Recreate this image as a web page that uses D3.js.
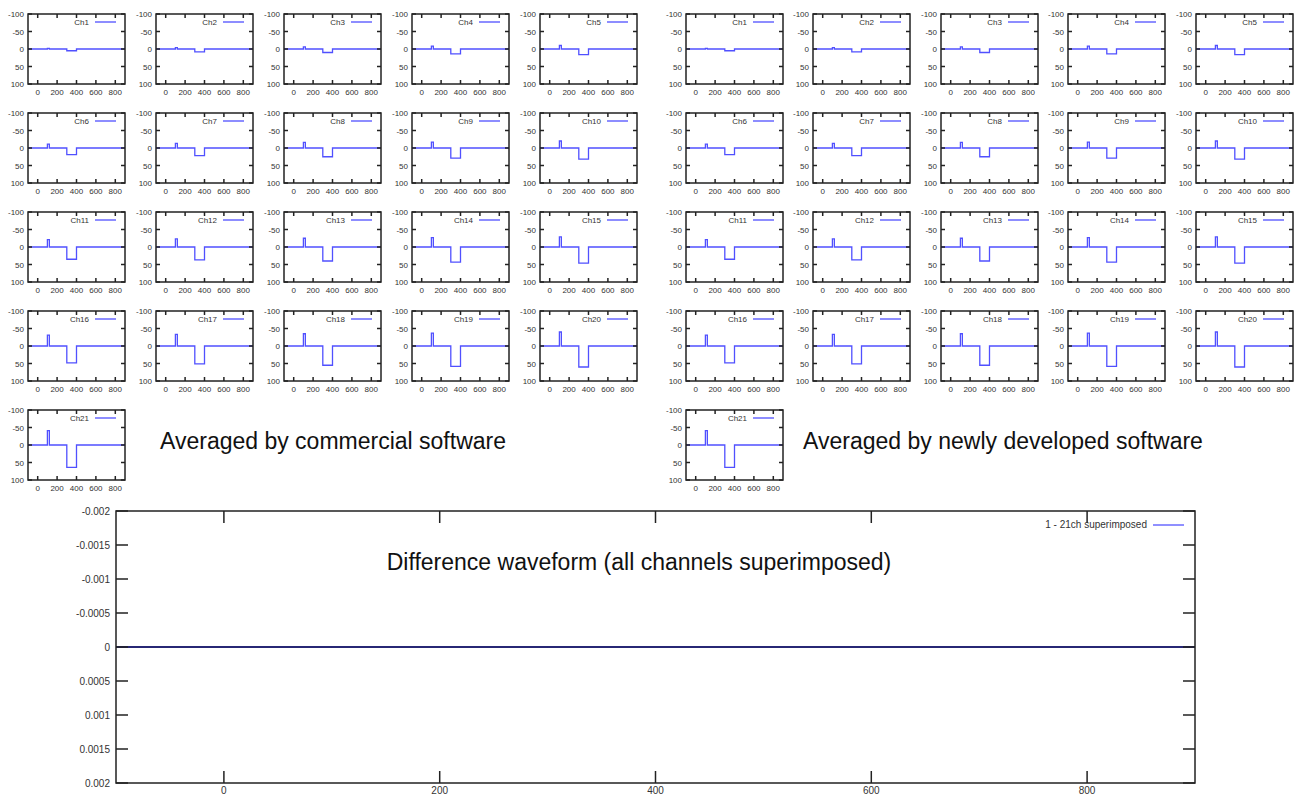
<!DOCTYPE html>
<html>
<head>
<meta charset="utf-8">
<script src="https://cdn.jsdelivr.net/npm/d3@7"></script>
<style>
    body { margin: 0; background: #fff; }
    svg { display: block; font-family: "Liberation Sans", Arial, sans-serif; }
    .frame { fill: none; stroke: #222; stroke-width: 1.5; }
    .tick-mark { stroke: #222; stroke-width: 1.5; }
    .lbl { fill: #333; }
</style>
</head>
<body>
<svg id="chart"></svg>
<script>
const W = 1296, H = 797;

// channel names
const channels = d3.range(1, 22).map(i => "Ch" + i);

// sample points where the waveform changes level (step after)
const sampleTimes = [-100, 100, 120, 300, 400, 900];

// amplitude (negative = upward spike, positive = dip)
const commercialSpike = [-2, -4, -6, -8, -10, -11, -13, -16, -17, -20, -21, -23, -25, -27, -29, -31, -33, -35, -37, -40, -41];
const commercialDip = [5, 8, 10, 14, 16, 19, 22, 25, 29, 32, 35, 37, 40, 43, 46, 48, 51, 55, 58, 60, 64];
const newSpike = [-2, -4, -6, -8, -10, -11, -13, -16, -17, -20, -21, -23, -25, -27, -29, -31, -33, -35, -37, -40, -41];
const newDip = [5, 8, 10, 14, 16, 19, 22, 25, 29, 32, 35, 37, 40, 43, 46, 48, 51, 55, 58, 60, 64];

const smallXTicks = [0, 200, 400, 600, 800];
const smallYTicks = [-100, -50, 0, 50, 100];
const bigXTicks = [0, 200, 400, 600, 800];
const bigYTicks = [-0.002, -0.0015, -0.001, -0.0005, 0, 0.0005, 0.001, 0.0015, 0.002];

function waveform(spike, dip) {
    return sampleTimes.map((t, i) => ({
        t: t,
        v: [0, spike, 0, dip, 0, 0][i]
    }));
}

const svg = d3.select("#chart").attr("width", W).attr("height", H);

// small panel geometry
const pw = 97, ph = 70;
const rowTops = [14, 113, 212, 311, 410];
const leftCols = [28, 156, 284, 412, 540];
const rightCols = [686, 813, 941, 1068, 1196];

function drawPanel(x0, y0, name, data) {
    const g = svg.append("g").attr("transform", `translate(${x0},${y0})`);
    const x = d3.scaleLinear().domain([-100, 900]).range([0, pw]);
    const y = d3.scaleLinear().domain([-100, 100]).range([0, ph]);

    const line = d3.line().x(d => x(d.t)).y(d => y(d.v)).curve(d3.curveStepAfter);
    g.append("path")
        .datum(data)
        .attr("d", line)
        .attr("fill", "none")
        .attr("stroke", "#5050ff")
        .attr("stroke-width", 1.3);

    // ticks on all four sides, pointing in
    smallXTicks.forEach(t => {
        g.append("line").attr("class", "tick-mark")
            .attr("x1", x(t)).attr("x2", x(t)).attr("y1", ph).attr("y2", ph - 4);
        g.append("line").attr("class", "tick-mark")
            .attr("x1", x(t)).attr("x2", x(t)).attr("y1", 0).attr("y2", 4);
        g.append("text").attr("class", "lbl")
            .attr("x", x(t)).attr("y", ph + 11)
            .attr("text-anchor", "middle").attr("font-size", 8)
            .text(t);
    });
    smallYTicks.forEach(t => {
        g.append("line").attr("class", "tick-mark")
            .attr("x1", 0).attr("x2", 4).attr("y1", y(t)).attr("y2", y(t));
        g.append("line").attr("class", "tick-mark")
            .attr("x1", pw).attr("x2", pw - 4).attr("y1", y(t)).attr("y2", y(t));
        g.append("text").attr("class", "lbl")
            .attr("x", -4).attr("y", y(t) + 3)
            .attr("text-anchor", "end").attr("font-size", 8)
            .text(t);
    });

    g.append("rect").attr("class", "frame").attr("width", pw).attr("height", ph);

    // legend
    g.append("text").attr("class", "lbl")
        .attr("x", 61).attr("y", 11)
        .attr("text-anchor", "end").attr("font-size", 8)
        .text(name);
    g.append("line")
        .attr("x1", 67).attr("x2", 88).attr("y1", 8).attr("y2", 8)
        .attr("stroke", "#5050ff").attr("stroke-width", 1.3);
}

channels.forEach((name, i) => {
    const r = Math.floor(i / 5), c = i % 5;
    drawPanel(leftCols[c], rowTops[r], name, waveform(commercialSpike[i], commercialDip[i]));
    drawPanel(rightCols[c], rowTops[r], name, waveform(newSpike[i], newDip[i]));
});

svg.append("text").attr("x", 333).attr("y", 449)
    .attr("text-anchor", "middle").attr("font-size", 23).attr("fill", "#111")
    .text("Averaged by commercial software");
svg.append("text").attr("x", 1003).attr("y", 449)
    .attr("text-anchor", "middle").attr("font-size", 23).attr("fill", "#111")
    .text("Averaged by newly developed software");

// difference plot
const bx0 = 116, by0 = 511, bw = 1079, bh = 272;
const bg = svg.append("g").attr("transform", `translate(${bx0},${by0})`);
const bx = d3.scaleLinear().domain([-100, 900]).range([0, bw]);
const by = d3.scaleLinear().domain([-0.002, 0.002]).range([0, bh]);

const diffLine = d3.line().x(d => bx(d.t)).y(d => by(d.v));
channels.forEach((name, i) => {
    const a = waveform(commercialSpike[i], commercialDip[i]);
    const b = waveform(newSpike[i], newDip[i]);
    const diff = a.map((d, k) => ({ t: d.t, v: b[k].v - d.v }));
    bg.append("path")
        .datum(diff)
        .attr("d", diffLine)
        .attr("fill", "none")
        .attr("stroke", "#2020a0")
        .attr("stroke-width", 1);
});
// zero axis
bg.append("line")
    .attr("x1", 0).attr("x2", bw).attr("y1", by(0)).attr("y2", by(0))
    .attr("stroke", "#333").attr("stroke-width", 0.8);

bigXTicks.forEach(t => {
    bg.append("line").attr("class", "tick-mark")
        .attr("x1", bx(t)).attr("x2", bx(t)).attr("y1", bh).attr("y2", bh - 12);
    bg.append("line").attr("class", "tick-mark")
        .attr("x1", bx(t)).attr("x2", bx(t)).attr("y1", 0).attr("y2", 12);
    bg.append("text").attr("class", "lbl")
        .attr("x", bx(t)).attr("y", bh + 11)
        .attr("text-anchor", "middle").attr("font-size", 10)
        .text(t);
});
bigYTicks.forEach(t => {
    bg.append("line").attr("class", "tick-mark")
        .attr("x1", 0).attr("x2", 12).attr("y1", by(t)).attr("y2", by(t));
    bg.append("line").attr("class", "tick-mark")
        .attr("x1", bw).attr("x2", bw - 12).attr("y1", by(t)).attr("y2", by(t));
    bg.append("text").attr("class", "lbl")
        .attr("x", -6).attr("y", by(t) + 4)
        .attr("text-anchor", "end").attr("font-size", 10)
        .text(t);
});
bg.append("rect").attr("class", "frame").attr("width", bw).attr("height", bh)
    .attr("stroke-width", 2);

bg.append("text").attr("class", "lbl")
    .attr("x", 1031).attr("y", 17)
    .attr("text-anchor", "end").attr("font-size", 10)
    .text("1 - 21ch superimposed");
bg.append("line")
    .attr("x1", 1037).attr("x2", 1068).attr("y1", 14).attr("y2", 14)
    .attr("stroke", "#2020ff").attr("stroke-width", 1);

bg.append("text")
    .attr("x", 523).attr("y", 59)
    .attr("text-anchor", "middle").attr("font-size", 23).attr("fill", "#111")
    .text("Difference waveform (all channels superimposed)");
</script>
</body>
</html>
